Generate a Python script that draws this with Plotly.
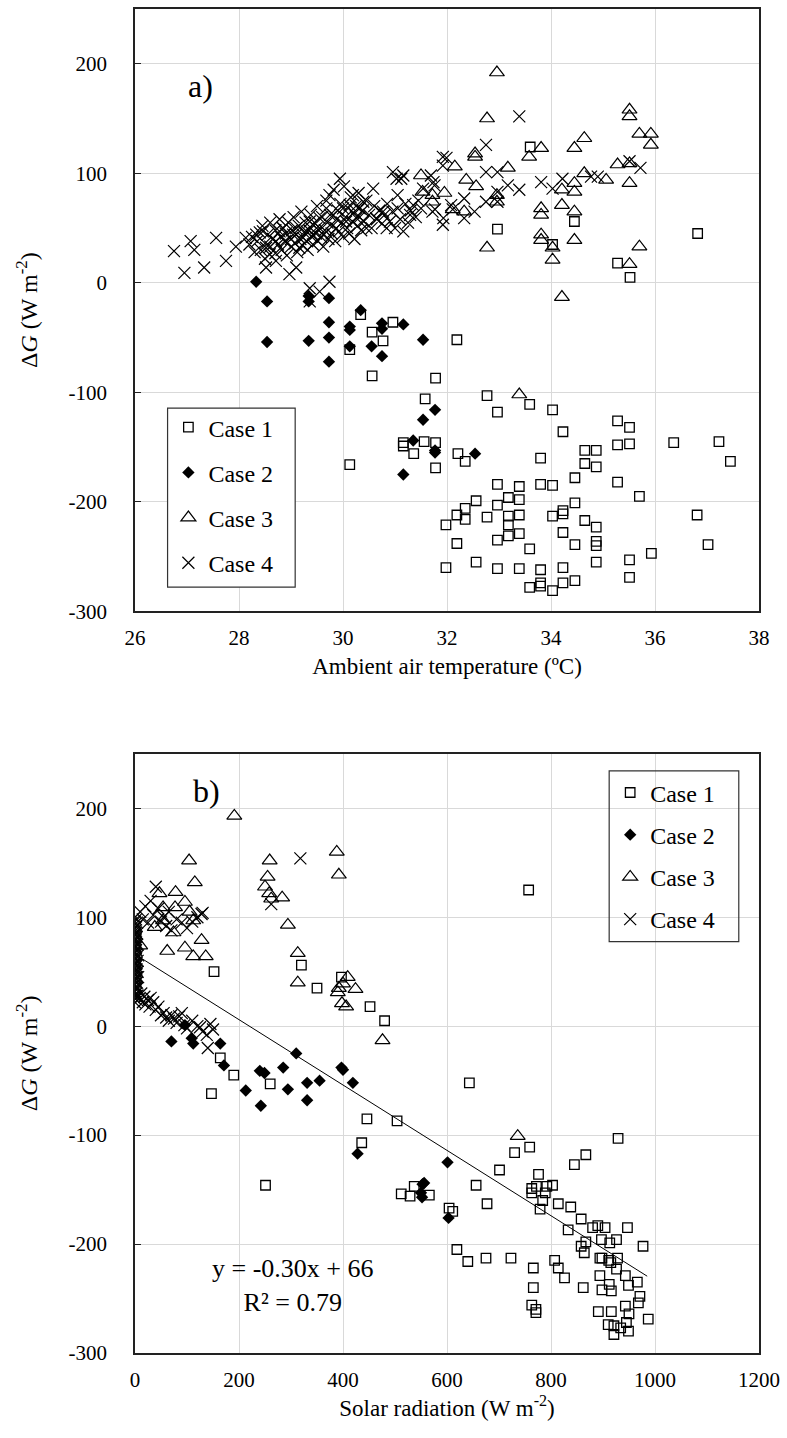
import plotly.graph_objects as go

# ---------------- (a) Ambient air temperature ----------------
c1_temp = [33.6, 32.97, 34.45, 34.03, 36.82, 35.28, 35.52,
           30.34, 30.56, 30.77, 30.96, 30.13, 30.56, 30.13,
           31.16, 31.16, 31.36, 31.56, 31.78, 31.78, 31.78, 31.58, 32.19, 32.21, 31.98, 32.19, 32.19, 31.98,
           32.77, 32.97, 33.59, 34.03, 34.23, 35.28, 35.51, 35.28, 35.51, 36.36, 37.23, 37.45, 33.8, 34.65,
           34.87, 34.65, 34.87, 34.46, 35.28, 35.7, 32.97, 33.39, 33.8, 34.03, 32.35, 33.18, 33.39, 32.56,
           32.97, 32.35, 32.35, 32.77, 33.18, 33.18, 33.39, 34.03, 34.23, 34.23, 34.46, 34.65, 34.87, 34.23,
           32.97, 33.18, 33.39, 33.59, 34.46, 34.87, 34.87, 32.56, 32.97, 33.39, 33.8, 34.23, 34.87, 35.51,
           35.93, 36.81, 37.02, 35.51, 33.59, 33.8, 33.8, 34.03, 34.23, 34.46]
c1_dg_a = [124, 49, 56, 35, 45, 18, 5,
           -29, -45, -53, -36, -61, -85, -166,
           -146, -149, -156, -145, -146, -169, -87, -106, -52, -156, -221, -212, -238, -260,
           -103, -118, -111, -116, -136, -126, -132, -148, -147, -146, -145, -163, -160, -153,
           -153, -165, -168, -178, -182, -195, -184, -186, -184, -185, -163, -196, -198, -199,
           -203, -206, -216, -214, -213, -221, -212, -213, -208, -211, -201, -217, -223, -228,
           -235, -231, -229, -243, -239, -236, -240, -255, -261, -261, -262, -260, -255, -253,
           -247, -212, -239, -269, -278, -274, -277, -281, -274, -272]

c2_temp = [28.33, 28.54, 29.34, 29.34, 29.73, 28.54, 29.34, 29.73, 29.73, 29.73, 30.13, 30.13, 30.13,
           30.34, 30.55, 30.75, 30.75, 30.75, 31.16, 31.54, 31.54, 31.77, 31.35, 31.77, 31.77, 31.16, 32.54]
c2_dg_a = [1, -17, -12, -17, -14, -54, -53, -36, -50, -72, -40, -43, -58,
           -25, -58, -37, -42, -67, -38, -52, -125, -116, -144, -153, -155, -175, -156]

c3_temp = [32.96, 32.77, 32.54, 32.54, 32.15, 32.37, 32.56, 31.5, 31.53, 31.72, 31.95, 31.72, 32.11,
           32.33, 33.17, 32.96, 32.96, 32.77, 33.58, 33.81, 34.64, 34.45, 34.64, 35.06, 35.28, 35.51,
           35.51, 35.7, 35.92, 35.92, 35.51, 35.51, 33.81, 33.81, 34.21, 34.45, 34.21, 34.45, 34.45,
           33.81, 33.81, 34.03, 34.03, 34.45, 35.51, 35.7, 34.21, 33.39]
c3_dg_a = [192, 150, 118, 115, 106, 94, 88, 98, 83, 80, 82, 74, 67,
           65, 105, 74, 80, 32, 115, 123, 132, 123, 100, 94, 108, 158,
           152, 136, 136, 126, 91, 109, 68, 62, 71, 65, 85, 91, 83,
           44, 39, 32, 21, 39, 17, 33, -13, -102]

c4_temp = [26.75, 27.07, 27.14, 26.95, 27.33, 27.56, 27.75, 27.94, 28.13, 28.33, 28.46, 28.52, 28.59,
           28.71, 28.78, 28.84, 28.91, 29.04, 29.1, 29.16, 29.23, 29.3, 29.36, 29.42, 29.49, 29.55,
           29.62, 29.68, 29.74, 29.81, 29.87, 29.94, 30.0, 30.06, 30.13, 30.19, 30.26, 30.32, 30.39,
           30.45, 30.58, 30.64, 30.77, 30.84, 30.96, 31.03, 31.16, 31.16, 31.29, 31.35, 31.54, 31.74,
           31.77, 31.93, 31.99, 29.36, 29.74, 29.36, 29.55, 28.52, 28.71, 28.97, 29.1,
           31.12, 31.05, 31.69, 31.92, 31.92, 31.76, 31.72, 31.92, 32.08, 32.33, 32.33, 32.53, 32.75,
           32.75, 32.97, 32.75, 32.97, 33.17, 33.39, 33.39, 33.81, 34.03, 34.22, 34.77, 34.9, 35.51,
           35.72, 32.97, 32.11,
           28.2, 28.25, 28.3, 28.35, 28.4, 28.42, 28.45, 28.5, 28.5, 28.55, 28.6, 28.6, 28.65, 28.7,
           28.7, 28.75, 28.78, 28.8, 28.82, 28.85, 28.88, 28.9, 28.92, 28.95, 29.0, 29.0, 29.02, 29.05,
           29.08, 29.1, 29.12, 29.15, 29.18, 29.2, 29.22, 29.25, 29.28, 29.3, 29.32, 29.35, 29.38,
           29.4, 29.42, 29.45, 29.48, 29.5, 29.52, 29.55, 29.58, 29.6, 29.62, 29.65, 29.68, 29.7,
           29.72, 29.75, 29.78, 29.8, 29.82, 29.85, 29.88, 29.9, 29.92, 29.95, 29.98, 30.0, 30.02,
           30.05, 30.08, 30.1, 30.12, 30.15, 30.18, 30.2, 30.22, 30.25, 30.28, 30.3, 30.32, 30.35,
           30.38, 30.4, 30.45, 30.5, 30.55, 30.6, 30.65, 30.7, 30.75, 30.8, 30.85, 30.9, 30.95, 31.0,
           31.05, 31.1, 31.2, 31.25, 31.3, 31.4, 31.45, 31.5]
c4_dg_a = [29, 38, 30, 9, 14, 41, 20, 33, 41, 44, 47, 32, 26,
           38, 47, 50, 38, 44, 50, 32, 41, 47, 56, 44, 50, 59,
           44, 68, 80, 62, 50, 95, 68, 56, 71, 80, 59, 68, 74,
           50, 86, 59, 65, 50, 101, 95, 98, 47, 62, 71, 86, 92,
           67, 59, 114, -5, 1, -17, -8, 14, 20, 8, 14,
           95, 80, 98, 115, 107, 89, 65, 53, 71, 77, 59, 65, 126,
           101, 101, 74, 83, 89, 152, 85, 92, 86, 95, 97, 97, 111,
           105, 74, 67,
           35, 42, 28, 38, 46, 30, 52, 36, 22, 44, 33, 55, 40, 27,
           48, 35, 58, 42, 30, 50, 38, 45, 25, 55, 40, 33, 48, 60,
           36, 44, 28, 52, 40, 65, 34, 46, 55, 38, 30, 48, 62,
           42, 35, 55, 45, 70, 38, 50, 42, 60, 33, 48, 75, 55,
           40, 62, 45, 52, 85, 38, 58, 66, 47, 72, 55, 42, 88,
           60, 50, 68, 45, 78, 56, 64, 40, 70, 52, 82, 60, 48,
           66, 56, 75, 62, 50, 70, 58, 66, 54, 62, 72, 56, 65, 50,
           68, 58, 72, 55, 66, 60, 75, 68]

# ---------------- (b) Solar radiation ----------------
c1_solar = [152, 320, 350, 397, 452, 480, 757,
            164, 190, 260, 147, 251, 446, 504, 436, 512, 529, 537, 566, 604, 611, 619, 640,
            643, 730, 759, 929, 845, 867, 701, 656, 677, 763, 763, 776, 772, 792, 803, 789, 784, 779,
            814, 838, 833, 858, 880, 890, 904, 947, 977, 897, 926, 913, 867, 858, 864, 894, 898, 911,
            928, 915, 926, 894, 943, 966, 912, 898, 916, 949, 971, 968, 943, 950, 987, 891, 916, 910,
            921, 921, 934, 949, 945, 862, 675, 723, 766, 807, 814, 826, 766, 763, 771, 771]
c1_dg_b = [50, 56, 35, 45, 18, 5, 125,
           -29, -45, -53, -62, -146, -85, -87, -107, -154, -156, -147, -155, -167, -170, -205, -216,
           -52, -116, -111, -103, -127, -118, -132, -146, -163, -149, -153, -136, -147, -147, -146, -153, -160, -168,
           -163, -166, -187, -177, -185, -183, -185, -185, -202, -196, -196, -199, -198, -202, -208, -213, -213, -215,
           -213, -217, -223, -229, -229, -235, -237, -242, -243, -238, -248, -254, -257, -264, -269, -262, -262, -274,
           -275, -283, -277, -280, -272, -240, -213, -213, -222, -215, -222, -231, -240, -256, -260, -263]

c2_solar = [96, 70, 109, 112, 164, 310, 171, 240, 249, 285, 213, 242, 294, 331, 331, 355, 397, 400,
            419, 428, 556, 550, 552, 601, 603, 553]
c2_dg_b = [1, -14, -11, -16, -16, -25, -36, -41, -43, -38, -59, -73, -58, -52, -68, -50, -38, -40,
           -52, -117, -144, -153, -157, -125, -176, -145]

c3_solar = [191, 104, 115, 78, 47, 96, 77, 105, 54, 112, 38, 54, 74, 128, 62, 96, 112, 136, 10,
            259, 255, 250, 258, 262, 283, 294, 313, 313, 388, 392, 392, 390, 400, 409, 424, 398, 406,
            476, 736]
c3_dg_b = [193, 152, 132, 123, 122, 114, 109, 105, 109, 97, 91, 97, 86, 79, 69, 72, 64, 64, 74,
           152, 137, 128, 122, 117, 118, 93, 67, 40, 160, 139, 35, 31, 39, 45, 34, 21, 18,
           -13, -101]

c4_solar = [0, 1, 0, 2, 0, 1, 3, 0, 2, 1, 0, 4, 2, 0, 1, 3, 0, 2, 1, 0, 5, 2, 0, 1, 3, 0, 2, 1, 0,
            4, 2, 0, 1, 3, 0, 2, 1, 0, 3, 1, 0, 2, 0, 1, 2, 0, 3, 1, 0, 2, 1, 0, 2, 4, 5, 6, 4, 3, 5, 6,
            10, 15, 20, 25, 30, 35, 40, 45, 50, 55, 60, 65, 70, 80, 90, 100, 110, 120, 130, 128, 262, 318,
            5, 8, 12, 15, 18, 20, 25, 28, 30, 35, 40, 45, 50, 55, 60, 65, 70, 75, 80, 85, 90, 95, 100,
            110, 120, 125, 130, 138, 140, 145, 150]
c4_dg_b = [22, 25, 28, 30, 32, 34, 36, 38, 40, 42, 44, 45, 47, 48, 50, 52, 53, 55, 57, 58, 60, 62, 63,
           65, 66, 68, 70, 72, 74, 75, 77, 78, 80, 82, 84, 86, 88, 90, 92, 94, 96, 98, 100, 36, 44, 51,
           58, 61, 67, 73, 79, 85, 91, 40, 50, 65, 85, 28, 35, 45,
           105, 98, 110, 95, 115, 102, 128, 108, 96, 100, 92, 105, 88, 98, 95, 90, 96, 100, 104, 103,
           112, 154,
           28, 25, 30, 22, 27, 20, 24, 18, 26, 22, 15, 18, 10, 12, 8, 5, 10, 7, 3, 9, 12, 1, -2,
           5, 0, -1, -5, -8, -20, 2, -3]

# regression line shown in panel (b): y = -0.30x + 66
fit_x = [0, 985]
fit_slope, fit_icpt = -0.30, 66

# tick values / labels
dg_ticks = [-300, -200, -100, 0, 100, 200]
dg_ticktext = ["-300", "-200", "-100", "0", "100", "200"]
temp_ticks = [26, 28, 30, 32, 34, 36, 38]
solar_ticks = [0, 200, 400, 600, 800, 1000, 1200]

FONT = "Liberation Serif, Times New Roman, serif"
BLACK = "#000000"

fig = go.Figure()

styles = [
    ("Case 1", dict(symbol="square-open", size=9.5, color=BLACK, line=dict(width=1.3, color=BLACK))),
    ("Case 2", dict(symbol="diamond", size=9.5, color=BLACK, line=dict(width=0))),
    ("Case 3", dict(symbol="triangle-up-open", size=13, color=BLACK, line=dict(width=1.2, color=BLACK))),
    ("Case 4", dict(symbol="x-thin-open", size=12, color=BLACK, line=dict(width=1.2, color=BLACK))),
]
top_data = [(c1_temp, c1_dg_a), (c2_temp, c2_dg_a), (c3_temp, c3_dg_a), (c4_temp, c4_dg_a)]
bot_data = [(c1_solar, c1_dg_b), (c2_solar, c2_dg_b), (c3_solar, c3_dg_b), (c4_solar, c4_dg_b)]

for (name, mk), (xs, ys) in zip(styles, top_data):
    fig.add_trace(go.Scatter(x=xs, y=ys, mode="markers", name=name, marker=mk,
                             xaxis="x", yaxis="y", legend="legend", legendgroup="a" + name))
for (name, mk), (xs, ys) in zip(styles, bot_data):
    fig.add_trace(go.Scatter(x=xs, y=ys, mode="markers", name=name, marker=mk,
                             xaxis="x2", yaxis="y2", legend="legend2", legendgroup="b" + name))

fig.add_trace(go.Scatter(x=fit_x, y=[fit_slope * v + fit_icpt for v in fit_x], mode="lines",
                         line=dict(color=BLACK, width=1), showlegend=False,
                         xaxis="x2", yaxis="y2", hoverinfo="skip"))

grid = "#d9d9d9"
common_axis = dict(showgrid=True, gridcolor=grid, gridwidth=1.3, zeroline=False,
                   showline=True, linecolor="#222222", linewidth=1.8, mirror=True,
                   tickfont=dict(family=FONT, size=21, color=BLACK))
ytitle = "Δ<i>G</i> (W m<sup>-2</sup>)"

fig.update_layout(
    width=787, height=1438,
    margin=dict(l=135, r=26, t=7, b=85),
    paper_bgcolor="white", plot_bgcolor="white",
    font=dict(family=FONT, color=BLACK),
    xaxis=dict(domain=[0, 1], anchor="y", range=[26, 38], tickvals=temp_ticks,
               ticks="", ticklabelstandoff=7,
               title=dict(text="Ambient air temperature (ºC)", font=dict(family=FONT, size=23), standoff=8),
               **common_axis),
    yaxis=dict(domain=[0.5518, 1], anchor="x", range=[-300, 250], tickvals=dg_ticks, ticktext=dg_ticktext,
               ticks="inside", ticklen=6, tickcolor="#222222", ticklabelstandoff=22,
               title=dict(text=ytitle, font=dict(family=FONT, size=24), standoff=24),
               **common_axis),
    xaxis2=dict(domain=[0, 1], anchor="y2", range=[0, 1200], tickvals=solar_ticks,
                ticks="", ticklabelstandoff=7,
                title=dict(text="Solar radiation (W m<sup>-2</sup>)", font=dict(family=FONT, size=23), standoff=8),
                **common_axis),
    yaxis2=dict(domain=[0, 0.4458], anchor="x2", range=[-300, 250], tickvals=dg_ticks, ticktext=dg_ticktext,
                ticks="inside", ticklen=6, tickcolor="#222222", ticklabelstandoff=22,
                title=dict(text=ytitle, font=dict(family=FONT, size=24), standoff=24),
                **common_axis),
    legend=dict(x=0.0535, y=0.7053, xanchor="left", yanchor="top", bgcolor="rgba(0,0,0,0)",
                borderwidth=0, tracegroupgap=11,
                font=dict(family=FONT, size=24, color=BLACK)),
    legend2=dict(x=0.7615, y=0.4335, xanchor="left", yanchor="top", bgcolor="rgba(0,0,0,0)",
                 borderwidth=0, tracegroupgap=8,
                 font=dict(family=FONT, size=24, color=BLACK)),
    shapes=[
        dict(type="rect", xref="paper", yref="paper", x0=0.0522, x1=0.2567, y0=0.5698, y1=0.7031,
             line=dict(color="#333333", width=1.2), fillcolor="white", layer="above"),
        dict(type="rect", xref="paper", yref="paper", x0=0.7599, x1=0.9676, y0=0.3061, y1=0.4331,
             line=dict(color="#333333", width=1.2), fillcolor="rgba(0,0,0,0)", layer="above"),
    ],
    annotations=[
        dict(text="a)", x=27.25, y=180, xref="x", yref="y", showarrow=False,
             font=dict(family=FONT, size=32, color=BLACK)),
        dict(text="b)", x=138, y=216, xref="x2", yref="y2", showarrow=False,
             font=dict(family=FONT, size=32, color=BLACK)),
        dict(text="y = -0.30x + 66<br>R² = 0.79", x=303, y=-238, xref="x2", yref="y2",
             showarrow=False, align="center", font=dict(family=FONT, size=26, color=BLACK)),
    ],
)

fig.write_html("out.html")
